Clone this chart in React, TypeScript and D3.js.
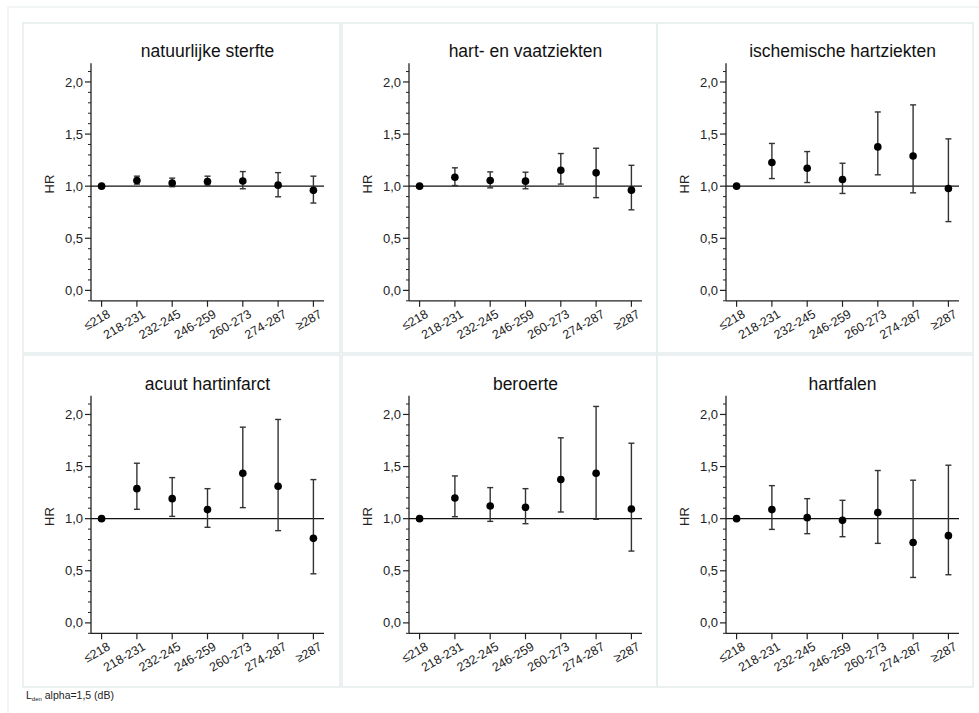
import React from "react";
import * as d3 from "d3";

const categories = ["≤218", "218-231", "232-245", "246-259", "260-273", "274-287", "≥287"];
const titles = [
  "natuurlijke sterfte",
  "hart- en vaatziekten",
  "ischemische hartziekten",
  "acuut hartinfarct",
  "beroerte",
  "hartfalen",
];
const yTickValues = [0, 0.5, 1.0, 1.5, 2.0];

const hrNatuurlijk = [1, 1.054, 1.03, 1.045, 1.05, 1.01, 0.96];
const loNatuurlijk = [1, 1.02, 0.995, 1.01, 0.975, 0.898, 0.838];
const hiNatuurlijk = [1, 1.096, 1.077, 1.096, 1.14, 1.13, 1.096];

const hrHartVaat = [1, 1.086, 1.054, 1.048, 1.153, 1.128, 0.962];
const loHartVaat = [1, 1.006, 0.984, 0.975, 1.02, 0.89, 0.773];
const hiHartVaat = [1, 1.176, 1.137, 1.134, 1.313, 1.364, 1.2];

const hrIschemisch = [1, 1.227, 1.172, 1.064, 1.377, 1.29, 0.978];
const loIschemisch = [1, 1.073, 1.035, 0.93, 1.109, 0.936, 0.66];
const hiIschemisch = [1, 1.41, 1.332, 1.22, 1.712, 1.78, 1.454];

const hrInfarct = [1, 1.288, 1.192, 1.087, 1.436, 1.311, 0.811];
const loInfarct = [1, 1.09, 1.022, 0.917, 1.106, 0.885, 0.471];
const hiInfarct = [1, 1.532, 1.394, 1.288, 1.878, 1.952, 1.375];

const hrBeroerte = [1, 1.199, 1.122, 1.109, 1.375, 1.436, 1.093];
const loBeroerte = [1, 1.019, 0.974, 0.952, 1.064, 0.994, 0.689];
const hiBeroerte = [1, 1.41, 1.298, 1.288, 1.776, 2.077, 1.724];

const hrHartfalen = [1, 1.087, 1.01, 0.984, 1.058, 0.772, 0.837];
const loHartfalen = [1, 0.897, 0.856, 0.827, 0.763, 0.436, 0.462];
const hiHartfalen = [1, 1.317, 1.192, 1.176, 1.462, 1.369, 1.513];

const panels = [
  { hr: hrNatuurlijk, lo: loNatuurlijk, hi: hiNatuurlijk },
  { hr: hrHartVaat, lo: loHartVaat, hi: hiHartVaat },
  { hr: hrIschemisch, lo: loIschemisch, hi: hiIschemisch },
  { hr: hrInfarct, lo: loInfarct, hi: hiInfarct },
  { hr: hrBeroerte, lo: loBeroerte, hi: hiBeroerte },
  { hr: hrHartfalen, lo: loHartfalen, hi: hiHartfalen },
];

const W = 979;
const H = 713;
const FONT = "'Liberation Sans', Arial, sans-serif";
const plotLefts = [91, 409, 726];
const plotW = 233;
const rowTop0 = 63.2;
const rowStep = 332.5;
const plotH = 237.6;
const panelBoxes = {
  xs: [23, 342, 657],
  ws: [317, 315, 316],
  ys: [23, 355],
  hs: [330, 332],
};

function Panel({ idx }: { idx: number }) {
  const col = idx % 3;
  const row = Math.floor(idx / 3);
  const left = plotLefts[col];
  const top = rowTop0 + row * rowStep;
  const bottom = top + plotH;
  const right = left + plotW;
  const y = d3.scaleLinear().domain([-0.1, 2.18]).range([bottom, top]);
  const x = d3.scalePoint<string>().domain(categories).range([left, right]).padding(0.3);
  const minor = d3.range(-1, 22).map((d) => d / 10).filter((v) => !yTickValues.some((t) => Math.abs(t - v) < 1e-6));
  const p = panels[idx];
  const fmt = (v: number) => d3.format(".1f")(v).replace(".", ",");
  const capW = 3;
  return (
    <g>
      <rect
        x={panelBoxes.xs[col]}
        y={panelBoxes.ys[row]}
        width={panelBoxes.ws[col]}
        height={panelBoxes.hs[row]}
        fill="none"
        stroke="#e6eeee"
        strokeWidth={1.6}
      />
      <text
        x={(left + right) / 2}
        y={top - 6}
        textAnchor="middle"
        fontFamily={FONT}
        fontSize={17.5}
        fill="#111"
      >
        {titles[idx]}
      </text>
      {/* y axis */}
      <line x1={left} x2={left} y1={top} y2={bottom} stroke="#222" strokeWidth={1.3} />
      {minor.map((v, i) => (
        <line key={"m" + i} x1={left - 3} x2={left} y1={y(v)} y2={y(v)} stroke="#222" strokeWidth={1} />
      ))}
      {yTickValues.map((v) => (
        <g key={"t" + v}>
          <line x1={left - 6} x2={left} y1={y(v)} y2={y(v)} stroke="#222" strokeWidth={1.2} />
          <text
            x={left - 8}
            y={y(v)}
            dy="0.35em"
            textAnchor="end"
            fontFamily={FONT}
            fontSize={13}
            fill="#222"
          >
            {fmt(v)}
          </text>
        </g>
      ))}
      <text
        transform={`translate(${left - 42},${(top + bottom) / 2 + 2}) rotate(-90)`}
        textAnchor="middle"
        dy="0.35em"
        fontFamily={FONT}
        fontSize={13}
        fill="#222"
      >
        HR
      </text>
      {/* x axis */}
      <line x1={left} x2={right} y1={bottom} y2={bottom} stroke="#222" strokeWidth={1.3} />
      {categories.map((c) => (
        <g key={"x" + c}>
          <line x1={x(c)!} x2={x(c)!} y1={bottom} y2={bottom + 6} stroke="#222" strokeWidth={1.2} />
          <text
            transform={`translate(${x(c)! + 5},${bottom + 8}) rotate(-30)`}
            textAnchor="end"
            dy="0.71em"
            fontFamily={FONT}
            fontSize={12.5}
            fill="#222"
          >
            {c}
          </text>
        </g>
      ))}
      {/* reference line */}
      <line x1={left} x2={right} y1={y(1)} y2={y(1)} stroke="#111" strokeWidth={1.3} />
      {/* error bars and points */}
      {categories.map((c, i) => (
        <g key={"e" + c}>
          {p.hi[i] !== p.lo[i] && (
            <g stroke="#333" strokeWidth={1.4}>
              <line x1={x(c)!} x2={x(c)!} y1={y(p.lo[i])} y2={y(p.hi[i])} />
              <line x1={x(c)! - capW} x2={x(c)! + capW} y1={y(p.lo[i])} y2={y(p.lo[i])} />
              <line x1={x(c)! - capW} x2={x(c)! + capW} y1={y(p.hi[i])} y2={y(p.hi[i])} />
            </g>
          )}
          <circle cx={x(c)!} cy={y(p.hr[i])} r={3.8} fill="#000" />
        </g>
      ))}
    </g>
  );
}

export default function App() {
  return (
    <svg
      width={W}
      height={H}
      style={{ position: "absolute", left: 0, top: 0, background: "#fff" }}
    >
      <rect x={0} y={0} width={W} height={H} fill="#fff" />
      <rect x={8} y={7} width={W + 10} height={H + 10} fill="none" stroke="#eef2f2" strokeWidth={1.5} />
      {panels.map((_, i) => (
        <Panel key={i} idx={i} />
      ))}
      <text x={26} y={699} fontFamily={FONT} fontSize={10.5} fill="#222">
        L
        <tspan fontSize={6} dy={1.5}>den</tspan>
        <tspan dy={-1.5}> alpha=1,5 (dB)</tspan>
      </text>
    </svg>
  );
}
